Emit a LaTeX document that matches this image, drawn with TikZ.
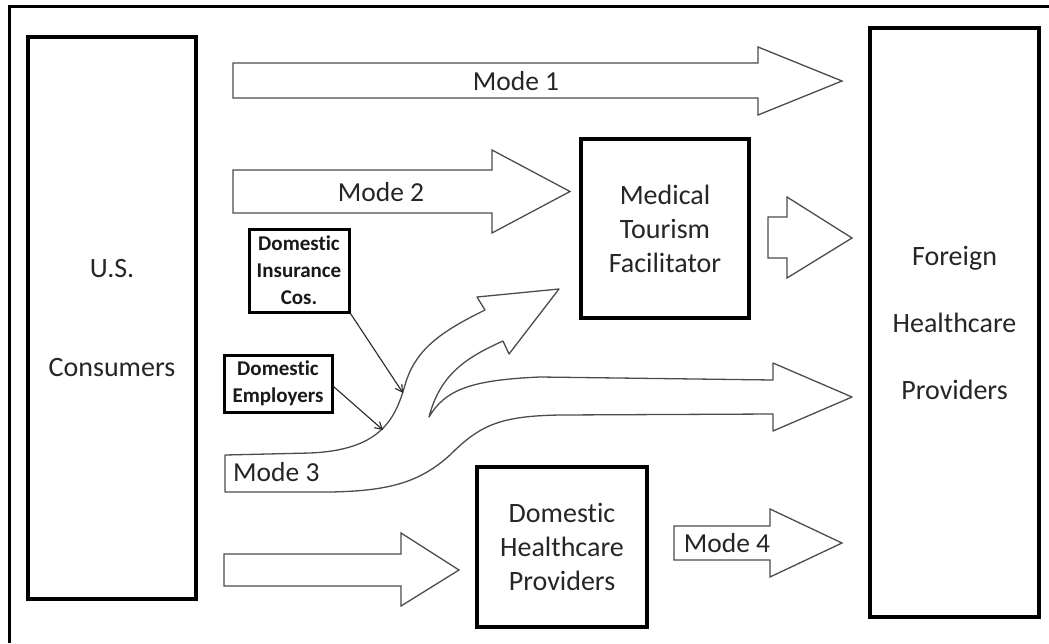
\documentclass[tikz,border=0pt]{standalone}
\usepackage{fontspec}
\setmainfont{Carlito}[Ligatures={NoCommon}]
\usetikzlibrary{arrows.meta}
\begin{document}
\begin{tikzpicture}[x=1pt,y=-1pt,
  box/.style={draw=black, line width=3.2pt, fill=white, inner sep=0pt, align=center, text=black!85, font=\fontsize{28}{34}\selectfont},
  smallbox/.style={draw=black, line width=3pt, fill=white, inner sep=0pt, align=center, text=black!90, font=\fontsize{21}{27}\selectfont\bfseries},
  blockarrow/.style={draw=black!70, line width=1.3pt, fill=white, line join=miter},
  modelabel/.style={text=black!85, font=\fontsize{27.5}{32}\selectfont, inner sep=0pt},
  conn/.style={draw=black!85, line width=1.1pt, -{Straight Barb[length=7pt,width=8pt]}},
  framestyle/.style={line width=3pt, draw=black}
]
\useasboundingbox (0,0) rectangle (1049,643);
% outer frame (only top and left edges visible)
\draw[framestyle] (9,643) -- (9,6) -- (1049,6);

% block arrows
\draw[blockarrow] (233,63) -- (758,63) -- (758,47) -- (842,81) -- (758,115) -- (758,98) -- (233,98) -- cycle;
\draw[blockarrow] (233,170) -- (492,170) -- (492,150) -- (570,191.5) -- (492,233) -- (492,213) -- (233,213) -- cycle;
\draw[blockarrow] (768,217) -- (787,217) -- (787,197) -- (852,238) -- (787,278) -- (787,258) -- (768,258) -- cycle;
\draw[blockarrow] (674,526) -- (770,526) -- (770,509) -- (842,543) -- (770,577) -- (770,560) -- (674,560) -- cycle;
\draw[blockarrow] (224,554) -- (401,554) -- (401,533) -- (459,570) -- (401,606) -- (401,586) -- (224,586) -- cycle;
% Mode 3 split arrow
\draw[blockarrow, line join=round] (225,455) -- (310,453)
  .. controls (380,450) and (395,420) .. (405,385)
  .. controls (415,350) and (440,332) .. (485,310)
  -- (477,297) -- (559,289) -- (509,354) -- (503,341)
  .. controls (465,358) and (440,375) .. (429,417)
  .. controls (445,390) and (470,380) .. (540,377)
  -- (773,380) -- (773,363) -- (852,397) -- (773,431) -- (773,414) -- (560,415)
  .. controls (500,416) and (480,425) .. (450,455)
  .. controls (420,482) and (390,491) .. (330,492)
  -- (225,492) -- cycle;

% mode labels
\node[modelabel] (m1) at (516,81) {Mode 1};
\node[modelabel] (m2) at (381,192) {Mode 2};
\node[modelabel, anchor=west] (m3) at (233,472) {Mode 3};
\node[modelabel] (m4) at (727,543) {Mode 4};

% boxes
\node[box, minimum width=168pt, minimum height=562pt] (us) at (112,318) {U.S.\\[65pt]Consumers};
\node[box, minimum width=169pt, minimum height=589pt] (foreign) at (954.5,322.5) {Foreign\\[33pt]Healthcare\\[33pt]Providers};
\node[box, minimum width=168pt, minimum height=179pt] (mtf) at (665,228.5) {Medical\\Tourism\\Facilitator};
\node[box, minimum width=170pt, minimum height=160pt] (dhp) at (562,547) {Domestic\\Healthcare\\Providers};
\node[smallbox, minimum width=100pt, minimum height=83pt] (ins) at (299,270.5) {Domestic\\Insurance\\Cos.};
\node[smallbox, minimum width=108pt, minimum height=57pt] (emp) at (278,383.5) {Domestic\\Employers};

% influence connectors onto the Mode 3 arrow
\coordinate (c3a) at (403,393);
\coordinate (c3b) at (383,430);
\draw[conn] (ins.south east) -- (c3a);
\draw[conn] ([yshift=-3pt]emp.east) -- (c3b);
\end{tikzpicture}
\end{document}
